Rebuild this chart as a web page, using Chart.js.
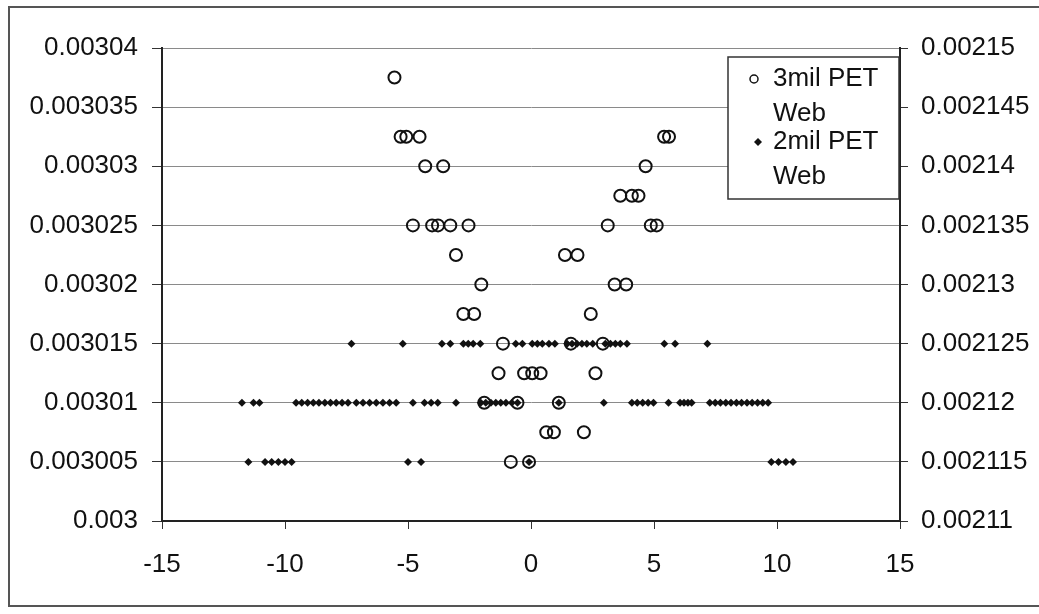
<!DOCTYPE html>
<html>
<head>
<meta charset="utf-8">
<script src="https://cdn.jsdelivr.net/npm/chart.js@4.4.1/dist/chart.umd.min.js"></script>
<style>
  html, body { margin: 0; padding: 0; background: #fff; }
  #wrap { position: relative; width: 1039px; height: 614px; overflow: hidden; }
  #frame { position: absolute; left: 8px; top: 6px; width: 1060px; height: 601px;
           border: 2px solid #555; box-sizing: border-box; pointer-events: none; }
  canvas { position: absolute; left: 0; top: 0; }
</style>
</head>
<body>
<div id="wrap">
  <canvas id="chart" width="1039" height="614"></canvas>
  <div id="frame"></div>
</div>
<script>
// --- axis settings ---
const xTicks = [-15, -10, -5, 0, 5, 10, 15];
const leftMin = 0.003, leftMax = 0.00304;
const rightMin = 0.00211, rightMax = 0.00215;
const yStep = 0.000005;

// --- 3mil PET Web (left axis): y level and the x values found at it ---
const pet3Levels = [0.0030375, 0.0030325, 0.00303, 0.0030275, 0.003025, 0.0030225,
                    0.00302, 0.0030175, 0.003015, 0.0030125, 0.00301, 0.0030075, 0.003005];
const pet3XByLevel = [
    [-5.55],
    [-5.3, -5.07, -4.53, 5.41, 5.61],
    [-4.3, -3.57, 4.66],
    [3.63, 4.1, 4.37],
    [-4.8, -4.02, -3.78, -3.28, -2.54, 3.12, 4.87, 5.11],
    [-3.05, 1.38, 1.89],
    [-2.02, 3.4, 3.87],
    [-2.75, -2.31, 2.43],
    [-1.14, 1.62, 2.92],
    [-1.32, -0.28, 0.05, 0.39, 2.62],
    [-1.9, -0.55, 1.13],
    [0.62, 0.93, 2.15],
    [-0.82, -0.08]
];

// --- 2mil PET Web (right axis) ---
const pet2Levels = [0.002125, 0.00212, 0.002115];
const pet2XByLevel = [
    [-7.3, -5.21, -3.62, -3.28, -2.75, -2.55, -2.35, -2.06, -0.62, -0.35, 0.05, 0.26,
     0.46, 0.73, 0.97, 1.47, 1.67, 1.87, 2.07, 2.27, 2.51, 3.02, 3.23, 3.43, 3.63, 3.9,
     5.42, 5.86, 7.17],
    [-11.75, -11.28, -11.04, -9.55, -9.32, -9.08, -8.85, -8.62, -8.38, -8.15, -7.92,
     -7.68, -7.44, -7.1, -6.83, -6.56, -6.29, -6.02, -5.75, -5.48, -4.8, -4.33, -4.06,
     -3.79, -3.05, -2.04, -1.84, -1.63, -1.43, -1.23, -1.02, -0.78, -0.55, 1.13, 2.96,
     4.1, 4.32, 4.54, 4.76, 4.98, 5.59, 6.06, 6.22, 6.38, 6.53, 7.27, 7.49, 7.7, 7.92,
     8.13, 8.35, 8.56, 8.78, 8.99, 9.21, 9.42, 9.64],
    [-11.49, -10.81, -10.54, -10.27, -10.0, -9.73, -5.0, -4.47, -0.08,
     9.77, 10.06, 10.36, 10.65]
];

const seriesNames = ['3mil PET', '2mil PET'];

function toPoints(levels, xs) {
    const pts = [];
    levels.forEach((lv, i) => xs[i].forEach(x => pts.push({ x: x, y: lv })));
    return pts;
}

const FONT = { family: '"Liberation Sans", Arial, sans-serif', size: 26 };
const INK = '#111';

function fmt(v) { return String(Number(v.toFixed(7))); }

// legend drawn inside the plot, top right, two-line labels
const boxLegend = {
    id: 'boxLegend',
    afterDatasetsDraw(chart) {
        const c = chart.ctx;
        const x0 = 728, y0 = 57, w = 171, h = 142;
        c.save();
        c.fillStyle = '#fff';
        c.fillRect(x0, y0, w, h);
        c.strokeStyle = '#333';
        c.lineWidth = 1.5;
        c.strokeRect(x0, y0, w, h);

        c.strokeStyle = INK;
        c.lineWidth = 1.5;
        c.beginPath();
        c.arc(754, 79, 4, 0, Math.PI * 2);
        c.stroke();

        c.fillStyle = INK;
        c.beginPath();
        c.moveTo(758, 138); c.lineTo(762, 142); c.lineTo(758, 146); c.lineTo(754, 142);
        c.closePath();
        c.fill();

        c.font = FONT.size + 'px ' + FONT.family;
        c.textBaseline = 'middle';
        c.fillStyle = INK;
        c.fillText(seriesNames[0], 773, 79);
        c.fillText('Web', 773, 114);
        c.fillText(seriesNames[1], 773, 142);
        c.fillText('Web', 773, 177);
        c.restore();
    }
};

const ctx = document.getElementById('chart').getContext('2d');
new Chart(ctx, {
    type: 'scatter',
    data: {
        datasets: [
            {
                label: '3mil PET Web',
                data: toPoints(pet3Levels, pet3XByLevel),
                yAxisID: 'y',
                pointStyle: 'circle',
                pointRadius: 6,
                pointBorderWidth: 2,
                borderColor: INK,
                backgroundColor: 'rgba(0,0,0,0)'
            },
            {
                label: '2mil PET Web',
                data: toPoints(pet2Levels, pet2XByLevel),
                yAxisID: 'y2',
                pointStyle: 'rectRot',
                pointRadius: 4,
                pointBorderWidth: 0,
                borderColor: INK,
                backgroundColor: INK
            }
        ]
    },
    options: {
        responsive: false,
        animation: false,
        layout: { padding: { top: 48, left: 0, right: 0, bottom: 0 } },
        plugins: { legend: { display: false }, tooltip: { enabled: false } },
        scales: {
            x: {
                type: 'linear',
                min: xTicks[0],
                max: xTicks[xTicks.length - 1],
                afterBuildTicks: s => { s.ticks = xTicks.map(v => ({ value: v })); },
                afterFit: s => { s.height = 93; },
                ticks: { font: FONT, color: INK, padding: 20, maxRotation: 0 },
                grid: { drawOnChartArea: false, drawTicks: true, tickLength: 8, tickColor: '#333' },
                border: { color: '#222', width: 2 }
            },
            y: {
                position: 'left',
                min: leftMin,
                max: leftMax,
                afterFit: s => { s.width = 162; },
                ticks: { stepSize: yStep, font: FONT, color: INK, padding: 14, callback: fmt },
                grid: { color: '#8a8a8a', lineWidth: 1, tickLength: 10, tickColor: '#333' },
                border: { color: '#222', width: 2 }
            },
            y2: {
                position: 'right',
                min: rightMin,
                max: rightMax,
                afterFit: s => { s.width = 139; },
                ticks: { stepSize: yStep, font: FONT, color: INK, padding: 13, callback: fmt },
                grid: { drawOnChartArea: false, tickLength: 8, tickColor: '#333' },
                border: { color: '#222', width: 2 }
            }
        }
    },
    plugins: [boxLegend]
});
</script>
</body>
</html>
